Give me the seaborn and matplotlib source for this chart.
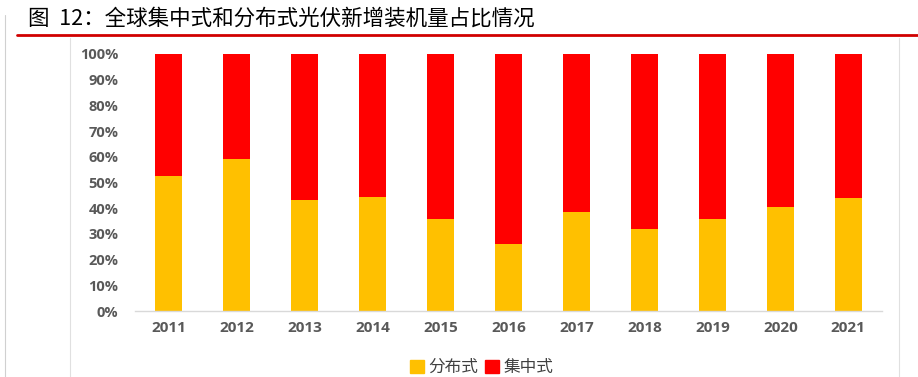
#!/usr/bin/env python3

import pandas as pd
import seaborn as sns
import matplotlib.pyplot as plt
from matplotlib.lines import Line2D
from matplotlib.patches import Patch
from matplotlib.ticker import PercentFormatter

years = ["2011", "2012", "2013", "2014", "2015", "2016",
         "2017", "2018", "2019", "2020", "2021"]
# share of distributed PV in new installations
distributed = [0.525, 0.591, 0.432, 0.445, 0.357, 0.261,
               0.384, 0.320, 0.357, 0.403, 0.440]
centralized = [1 - d for d in distributed]

title = "图  12：全球集中式和分布式光伏新增装机量占比情况"
series_names = ["分布式", "集中式"]
yellow = "#FFC000"
red = "#FF0000"
grey = "#595959"

sns.set_theme(style="white")
plt.rcParams['font.family'] = ['Noto Sans CJK SC', 'DejaVu Sans']

df = pd.DataFrame({"year": years, "dist": distributed, "cent": centralized})
df["total"] = df["dist"] + df["cent"]

fig = plt.figure(figsize=(9.18, 3.77), dpi=100)
ax = fig.add_axes([0.147, 0.175, 0.814, 0.682])

# stacked: full bar in red, distributed part in yellow on top
sns.barplot(data=df, x="year", y="total", color=red, saturation=1,
            width=0.4, linewidth=0, ax=ax)
sns.barplot(data=df, x="year", y="dist", color=yellow, saturation=1,
            width=0.4, linewidth=0, ax=ax)

ax.set_ylim(0, 1)
ax.set_xlim(-0.5, len(years) - 0.5)
ax.set_yticks([i / 10 for i in range(11)])
ax.yaxis.set_major_formatter(PercentFormatter(1.0, decimals=0))
ax.set_xlabel('')
ax.set_ylabel('')
for s in ["top", "right", "left"]:
    ax.spines[s].set_visible(False)
ax.spines["bottom"].set_color("#D9D9D9")
ax.spines["bottom"].set_linewidth(1)
ax.tick_params(axis="both", length=0, labelcolor=grey)
ax.tick_params(axis="y", pad=12)
ax.tick_params(axis="x", pad=7)
for lab in ax.get_yticklabels():
    lab.set_fontweight("bold")
    lab.set_fontsize(10.5)
    lab.set_family(["Open Sans", "DejaVu Sans"])
for lab in ax.get_xticklabels():
    lab.set_fontweight("bold")
    lab.set_fontsize(11)
    lab.set_family(["Open Sans", "DejaVu Sans"])

# title and page decorations
fig.text(0.030, 0.950, title, fontsize=15.5, color="black", va="center", ha="left")
fig.add_artist(Line2D([0.018, 1.0], [0.907, 0.907], color="#D00000", lw=2))
fig.add_artist(Line2D([0.0055, 0.0055], [0.0, 0.96], color="#D0D0D0", lw=0.8))
fig.add_artist(Line2D([0.0765, 0.0765], [0.0, 0.90], color="#E0E0E0", lw=0.8))
fig.add_artist(Line2D([0.979, 0.979], [0.0, 0.90], color="#E0E0E0", lw=0.8))

handles = [Patch(color=yellow), Patch(color=red)]
fig.legend(handles, series_names, loc="center", bbox_to_anchor=(0.525, 0.025),
           ncol=2, frameon=False, handlelength=0.8, handleheight=0.8,
           handletextpad=0.3, columnspacing=0.4, fontsize=12,
           labelcolor="#404040")

fig.savefig("out.png", dpi=100)
